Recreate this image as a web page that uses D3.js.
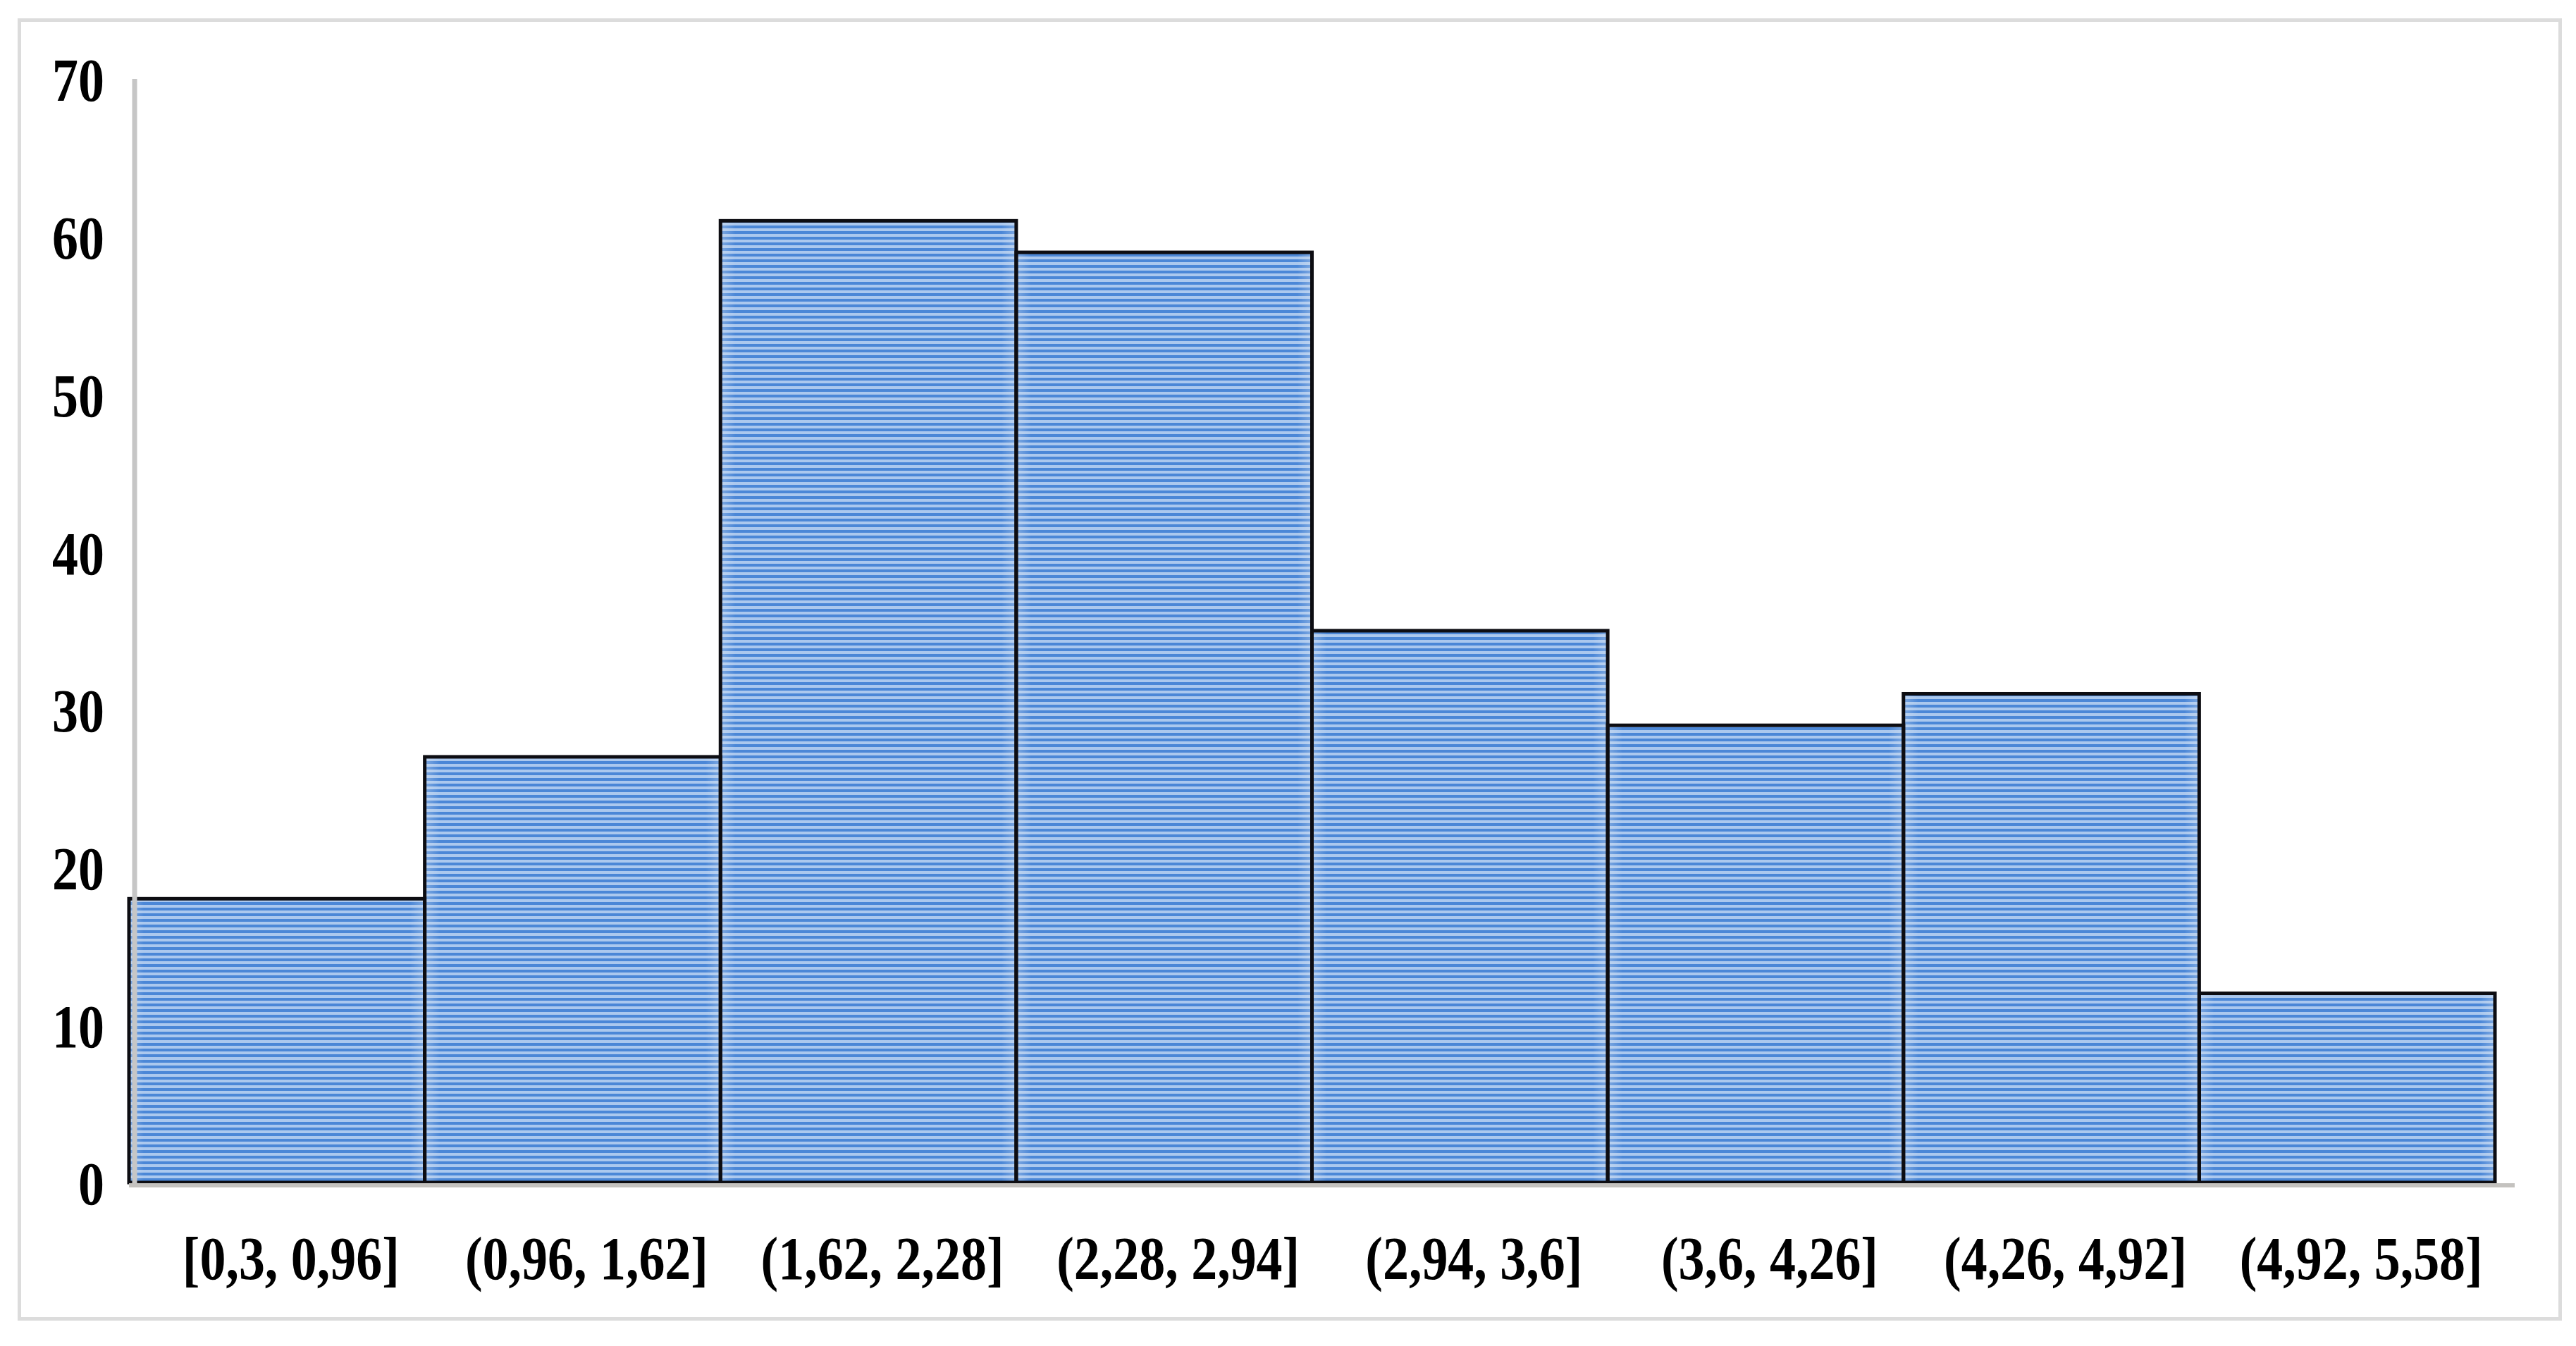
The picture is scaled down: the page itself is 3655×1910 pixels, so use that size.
<!DOCTYPE html>
<html>
<head>
<meta charset="utf-8">
<script src="https://cdn.jsdelivr.net/npm/d3@7/dist/d3.min.js"></script>
<style>
  html, body { margin: 0; padding: 0; background: #ffffff; }
  svg { display: block; }
</style>
</head>
<body>
<script>
// ---- data ----
const categories = ["[0,3, 0,96]", "(0,96, 1,62]", "(1,62, 2,28]", "(2,28, 2,94]",
                    "(2,94, 3,6]", "(3,6, 4,26]", "(4,26, 4,92]", "(4,92, 5,58]"];
const counts = [18, 27, 61, 59, 35, 29, 31, 12];
const yTicks = [0, 10, 20, 30, 40, 50, 60, 70];

// ---- layout ----
const W = 3655, H = 1910;
const plot = { left: 183, right: 3540, top: 112, bottom: 1678 };
const fontFamily = "'Liberation Serif', 'Times New Roman', serif";
const fontSize = 86;
const sx = 0.86;

const svg = d3.select("body").append("svg")
  .attr("width", W).attr("height", H);

svg.append("rect").attr("width", W).attr("height", H).attr("fill", "#ffffff");

// outer frame
svg.append("rect")
  .attr("x", 27.5).attr("y", 28.5)
  .attr("width", 3605).attr("height", 1843)
  .attr("fill", "none").attr("stroke", "#dcdcdc").attr("stroke-width", 5);

const defs = svg.append("defs");
const pat = defs.append("pattern")
  .attr("id", "stripes").attr("patternUnits", "userSpaceOnUse")
  .attr("width", 8).attr("height", 8);
pat.append("rect").attr("width", 8).attr("height", 8).attr("fill", "#4b87d7");
pat.append("rect").attr("y", 4).attr("width", 8).attr("height", 4).attr("fill", "#abc8ee");

const edge = defs.append("linearGradient").attr("id", "edge")
  .attr("x1", "0").attr("x2", "1").attr("y1", "0").attr("y2", "0");
[[0, 0.35], [0.05, 0], [0.95, 0], [1, 0.35]].forEach(([o, a]) => {
  edge.append("stop").attr("offset", o).attr("stop-color", "#dfe8f3").attr("stop-opacity", a);
});

const x = d3.scaleBand().domain(categories).range([plot.left, plot.right]).padding(0);
const y = d3.scaleLinear().domain([0, 70]).range([plot.bottom, plot.top]);

const data = categories.map((c, i) => ({ c, v: counts[i] }));

const bars = svg.append("g");
bars.selectAll("rect.fill").data(data).join("rect")
  .attr("class", "fill")
  .attr("x", d => x(d.c)).attr("y", d => y(d.v))
  .attr("width", x.bandwidth()).attr("height", d => y(0) - y(d.v))
  .attr("fill", "url(#stripes)");
bars.selectAll("rect.edge").data(data).join("rect")
  .attr("class", "edge")
  .attr("x", d => x(d.c)).attr("y", d => y(d.v))
  .attr("width", x.bandwidth()).attr("height", d => y(0) - y(d.v))
  .attr("fill", "url(#edge)");
bars.selectAll("rect.stroke").data(data).join("rect")
  .attr("class", "stroke")
  .attr("x", d => x(d.c)).attr("y", d => y(d.v))
  .attr("width", x.bandwidth()).attr("height", d => y(0) - y(d.v))
  .attr("fill", "none").attr("stroke", "#0d0d12").attr("stroke-width", 5);

// axis lines (light gray)
svg.append("line")
  .attr("x1", 191).attr("x2", 191).attr("y1", y(70)).attr("y2", y(0) + 6)
  .attr("stroke", "#c6c6c6").attr("stroke-width", 7);
svg.append("line")
  .attr("x1", plot.left).attr("x2", 3568).attr("y1", y(0) + 4).attr("y2", y(0) + 4)
  .attr("stroke", "#c4c2bf").attr("stroke-width", 6);

// y axis labels
const gy = svg.append("g").attr("transform", `translate(${191},0)`)
  .call(d3.axisLeft(y).tickValues(yTicks).tickSize(0).tickFormat(d3.format("d")));
gy.select(".domain").remove();
gy.selectAll(".tick text")
  .attr("x", -43 / sx).attr("dy", "0.36em")
  .attr("transform", `scale(${sx},1)`)
  .attr("fill", "#000").attr("font-family", fontFamily)
  .attr("font-weight", "bold").attr("font-size", fontSize)
  .attr("text-anchor", "end");

// x axis labels
const gx = svg.append("g").attr("transform", `translate(0,${plot.bottom})`)
  .call(d3.axisBottom(x).tickSize(0));
gx.select(".domain").remove();
gx.selectAll(".tick text")
  .attr("y", 137).attr("dy", "0").attr("x", 20 / sx)
  .attr("transform", `scale(${sx},1)`)
  .attr("fill", "#000").attr("font-family", fontFamily)
  .attr("font-weight", "bold").attr("font-size", fontSize)
  .attr("text-anchor", "middle");
</script>
</body>
</html>
